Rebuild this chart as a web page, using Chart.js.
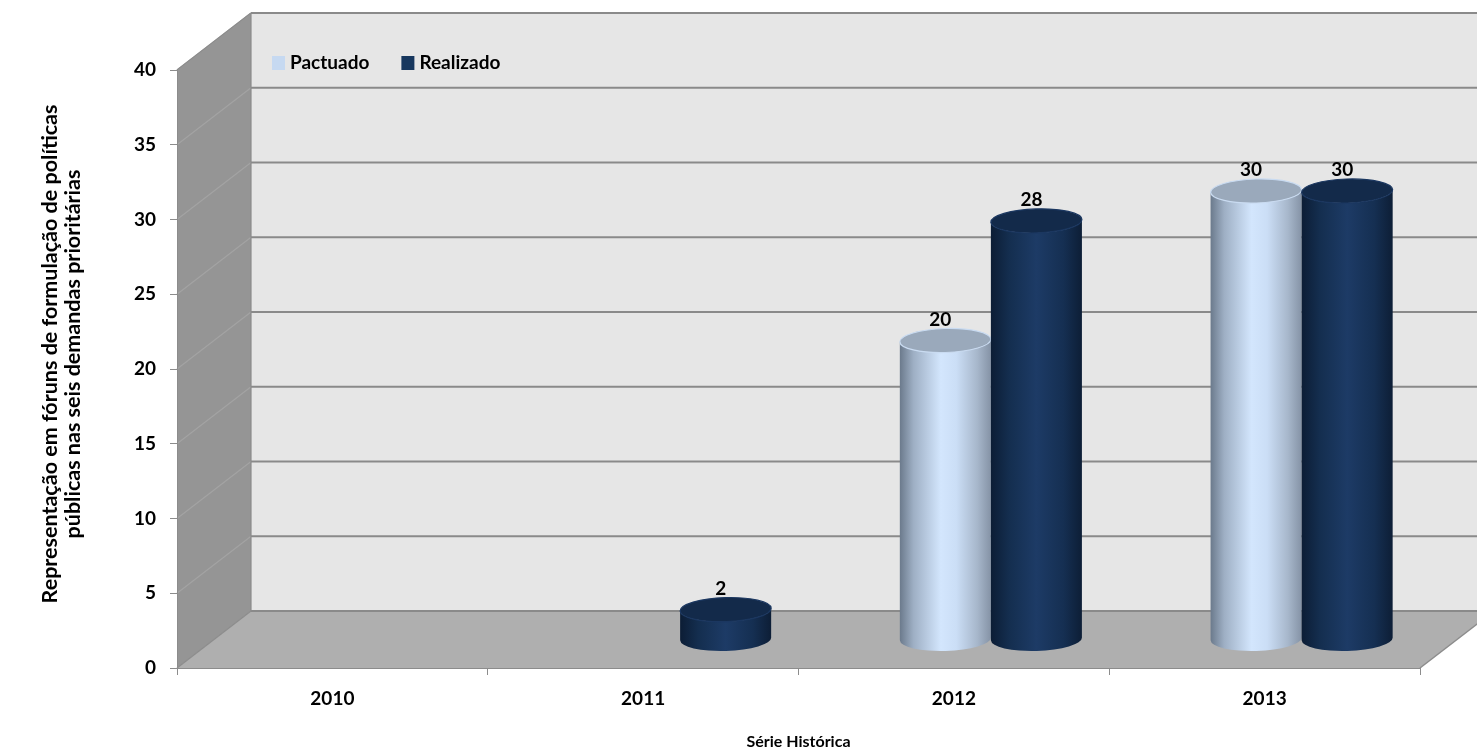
<!DOCTYPE html>
<html>
<head>
<meta charset="utf-8">
<script src="https://cdn.jsdelivr.net/npm/chart.js@4.4.1/dist/chart.umd.min.js"></script>
<style>
    html, body { margin: 0; padding: 0; background: #fff; }
    #wrap { width: 1477px; height: 752px; }
</style>
</head>
<body>
<div id="wrap"><canvas id="forumChart" width="1477" height="752"></canvas></div>
<script>
// data
const years = ["2010", "2011", "2012", "2013"];
const pactuado = [null, null, 20, 30];
const realizado = [null, 2, 28, 30];
const seriesNames = ["Pactuado", "Realizado"];
const yTicks = [0, 5, 10, 15, 20, 25, 30, 35, 40];
const yTitleLines = [
    "Representação em fóruns de formulação de políticas",
    "públicas nas seis demandas prioritárias"
];
const xTitle = "Série Histórica";

const FONT = "Lato, 'Open Sans', sans-serif";
const DEPTH_X = 74;
const DEPTH_Y = -57;
const RY = 12;
const TILT = -0.03;

const cylinderStyles = [
    {
        stops: [[0, "#6b7a8c"], [0.15, "#9eafc4"], [0.45, "#d3e6fd"], [0.62, "#cbdef6"], [0.85, "#a7b7cb"], [1, "#8593a6"]],
        top: "#9aa9bb",
        rim: "#c9dbf1",
        legend: "#c6d9f1"
    },
    {
        stops: [[0, "#0c1d35"], [0.2, "#142e4f"], [0.5, "#1d3b66"], [0.8, "#152f52"], [1, "#0d1e36"]],
        top: "#132a4a",
        rim: "#1b3760",
        legend: "#17375e"
    }
];

function polygon(ctx, pts, fill) {
    ctx.beginPath();
    ctx.moveTo(pts[0][0], pts[0][1]);
    for (let i = 1; i < pts.length; i++)
        ctx.lineTo(pts[i][0], pts[i][1]);
    ctx.closePath();
    ctx.fillStyle = fill;
    ctx.fill();
}

function line(ctx, x1, y1, x2, y2, color, width) {
    ctx.beginPath();
    ctx.moveTo(x1, y1);
    ctx.lineTo(x2, y2);
    ctx.strokeStyle = color;
    ctx.lineWidth = width;
    ctx.stroke();
}

function drawCylinder(ctx, cx, top, base, rx, st) {
    const g = ctx.createLinearGradient(cx - rx, 0, cx + rx, 0);
    st.stops.forEach(s => g.addColorStop(s[0], s[1]));

    ctx.beginPath();
    ctx.moveTo(cx - rx, top);
    ctx.lineTo(cx - rx, base);
    ctx.ellipse(cx, base, rx, RY, TILT, Math.PI, 0, true);
    ctx.lineTo(cx + rx, top);
    ctx.ellipse(cx, top, rx, RY, TILT, 0, Math.PI, false);
    ctx.closePath();
    ctx.fillStyle = g;
    ctx.fill();

    ctx.beginPath();
    ctx.ellipse(cx, top, rx, RY, TILT, 0, Math.PI * 2);
    ctx.fillStyle = st.top;
    ctx.fill();
    ctx.strokeStyle = st.rim;
    ctx.lineWidth = 1.2;
    ctx.stroke();
}

// walls, floor and gridlines of the 3D box
const boxPlugin = {
    id: "box3d",
    beforeDraw(chart) {
        const ctx = chart.ctx;
        const y = chart.scales.y;
        const L = chart.chartArea.left;
        const R = chart.chartArea.right;
        const T = y.getPixelForValue(40);
        const B = y.getPixelForValue(0);

        ctx.save();
        ctx.fillStyle = "#ffffff";
        ctx.fillRect(0, 0, chart.width, chart.height);

        polygon(ctx, [[L + DEPTH_X, T + DEPTH_Y], [R + DEPTH_X, T + DEPTH_Y], [R + DEPTH_X, B + DEPTH_Y], [L + DEPTH_X, B + DEPTH_Y]], "#e6e6e6");
        polygon(ctx, [[L, T], [L + DEPTH_X, T + DEPTH_Y], [L + DEPTH_X, B + DEPTH_Y], [L, B]], "#959595");
        polygon(ctx, [[L, B], [L + DEPTH_X, B + DEPTH_Y], [R + DEPTH_X, B + DEPTH_Y], [R, B]], "#afafaf");

        yTicks.forEach(v => {
            const yy = y.getPixelForValue(v);
            if (v > 0)
                line(ctx, L, yy, L + DEPTH_X, yy + DEPTH_Y, "#a3a3a3", 1.2);
            line(ctx, L + DEPTH_X, yy + DEPTH_Y, R + DEPTH_X, yy + DEPTH_Y, "#8a8a8a", 1.8);
        });

        line(ctx, L + DEPTH_X, T + DEPTH_Y, L + DEPTH_X, B + DEPTH_Y, "#8c8c8c", 1.2);
        line(ctx, L, T, L + DEPTH_X, T + DEPTH_Y, "#8c8c8c", 1.2);
        line(ctx, L, B, L + DEPTH_X, B + DEPTH_Y, "#8c8c8c", 1.2);
        line(ctx, R, B, R + DEPTH_X, B + DEPTH_Y, "#8c8c8c", 1.5);
        ctx.restore();
    },

    // cylinders instead of flat bars
    beforeDatasetsDraw(chart) {
        const ctx = chart.ctx;
        const labels = [];
        ctx.save();
        chart.data.datasets.forEach((ds, di) => {
            const meta = chart.getDatasetMeta(di);
            meta.data.forEach((bar, i) => {
                const v = ds.data[i];
                if (v == null)
                    return;
                const p = bar.getProps(["x", "y", "base", "width"], true);
                const cx = p.x + DEPTH_X / 2;
                const top = p.y + DEPTH_Y / 2;
                const base = p.base + DEPTH_Y / 2;
                drawCylinder(ctx, cx, top, base, p.width / 2, cylinderStyles[di]);
                labels.push({ text: String(v), x: cx - 5, y: top - 21 });
            });
        });

        ctx.fillStyle = "#000";
        ctx.font = "bold 19px " + FONT;
        ctx.textAlign = "center";
        ctx.textBaseline = "middle";
        labels.forEach(l => ctx.fillText(l.text, l.x, l.y));

        // legend on the back wall
        let lx = chart.chartArea.left + DEPTH_X + 21;
        const ly = chart.scales.y.getPixelForValue(40) + DEPTH_Y + 50;
        ctx.textAlign = "left";
        chart.data.datasets.forEach((ds, di) => {
            ctx.fillStyle = cylinderStyles[di].legend;
            ctx.fillRect(lx, ly - 7, 13, 14);
            ctx.fillStyle = "#000";
            ctx.fillText(ds.label, lx + 18, ly);
            lx += 18 + ctx.measureText(ds.label).width + 32;
        });

        // y axis title, two lines
        ctx.save();
        ctx.translate(50, 354);
        ctx.rotate(-Math.PI / 2);
        ctx.textAlign = "center";
        ctx.font = "bold 21.5px " + FONT;
        ctx.fillText(yTitleLines[0], 0, 0);
        ctx.fillText(yTitleLines[1], 0, 23);
        ctx.restore();

        ctx.restore();
        return false;
    }
};

const ctx = document.getElementById("forumChart").getContext("2d");

new Chart(ctx, {
    type: "bar",
    data: {
        labels: years,
        datasets: [
            { label: seriesNames[0], data: pactuado, backgroundColor: cylinderStyles[0].legend },
            { label: seriesNames[1], data: realizado, backgroundColor: cylinderStyles[1].legend }
        ]
    },
    options: {
        responsive: false,
        animation: false,
        layout: {
            padding: { left: 0, right: 57, top: 70, bottom: 0 }
        },
        datasets: {
            bar: { categoryPercentage: 0.586, barPercentage: 1 }
        },
        plugins: {
            legend: { display: false },
            tooltip: { enabled: false }
        },
        scales: {
            x: {
                grid: { offset: true, drawOnChartArea: false, tickLength: 7, color: "#8c8c8c" },
                border: { color: "#8c8c8c" },
                ticks: {
                    color: "#000",
                    padding: 12,
                    font: { family: FONT, size: 19, weight: "bold" }
                },
                title: {
                    display: true,
                    text: xTitle,
                    color: "#000",
                    padding: { top: 0, bottom: 1 },
                    font: { family: FONT, size: 16, weight: "bold" }
                },
                afterFit(scale) {
                    scale.height = 84;
                }
            },
            y: {
                min: 0,
                max: 40,
                grid: { drawOnChartArea: false, tickLength: 7, color: "#8c8c8c" },
                border: { color: "#8c8c8c" },
                ticks: {
                    stepSize: 5,
                    color: "#000",
                    padding: 14,
                    font: { family: FONT, size: 19, weight: "bold" }
                },
                afterFit(scale) {
                    scale.width = 177;
                }
            }
        }
    },
    plugins: [boxPlugin]
});
</script>
</body>
</html>
